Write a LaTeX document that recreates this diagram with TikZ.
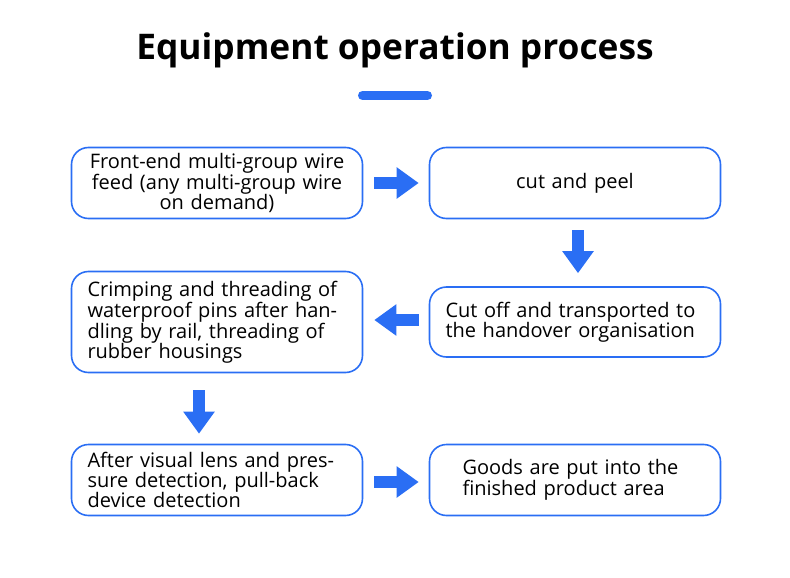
\documentclass[tikz,border=0pt]{standalone}
\usepackage{fontspec}
\setmainfont{Open Sans}
\usetikzlibrary{arrows.meta}
\definecolor{flowblue}{RGB}{42,110,244}
\begin{document}
\begin{tikzpicture}[x=1pt,y={(0pt,-1pt)},
                    main node/.style={draw=flowblue,line width=1.6pt,rounded corners=17pt,
                      minimum width=291pt,inner xsep=16pt,text width=259pt,
                      font=\fontsize{20}{20}\selectfont},
                    flow arrow/.style={draw=flowblue,line width=12pt,
                      -{Triangle[length=22pt,width=30pt]}}
                   ]
  \useasboundingbox (0,0) rectangle (790,578);

  \node[font=\bfseries\fontsize{35.3}{40}\selectfont] (title) at (395,50) {Equipment operation process};
  \draw[flowblue,line width=9pt,line cap=round] (362.5,95.5) -- (427.5,95.5);

  \node[main node,minimum height=71pt,align=center] (1) at (217,183) {Front-end multi-group wire\\feed (any multi-group wire\\on demand)};
  \node[main node,minimum height=71pt,align=center] (2) at (575,183) {cut and peel};
  \node[main node,minimum height=101pt,align=left] (3) at (217,322) {Crimping and threading of\\waterproof pins after han-\\dling by rail, threading of\\rubber housings};
  \node[main node,minimum height=70pt,align=left] (4) at (575,322) {Cut off and transported to\\the handover organisation};
  \node[main node,minimum height=71pt,align=left] (5) at (217,480) {After visual lens and pres-\\sure detection, pull-back\\device detection};
  \node[main node,minimum height=71pt,align=left,inner xsep=33pt,text width=225pt] (6) at (575,480) {Goods are put into the\\finished product area};

  \path%
   (1) edge [flow arrow,shorten <=11pt,shorten >=10pt] (2)
   ([xshift=3pt]2.south) edge [flow arrow,shorten <=11pt,shorten >=13pt] ([xshift=3pt]4.north)
   ([yshift=2pt]4.west) edge [flow arrow,shorten <=10pt,shorten >=11pt] ([yshift=2pt]3.east)
   ([xshift=-18pt]3.south) edge [flow arrow,shorten <=17pt,shorten >=10pt] ([xshift=-18pt]5.north)
   ([yshift=-2pt]5.east) edge [flow arrow,shorten <=11pt,shorten >=10pt] ([yshift=-2pt]6.west);
\end{tikzpicture}
\end{document}
